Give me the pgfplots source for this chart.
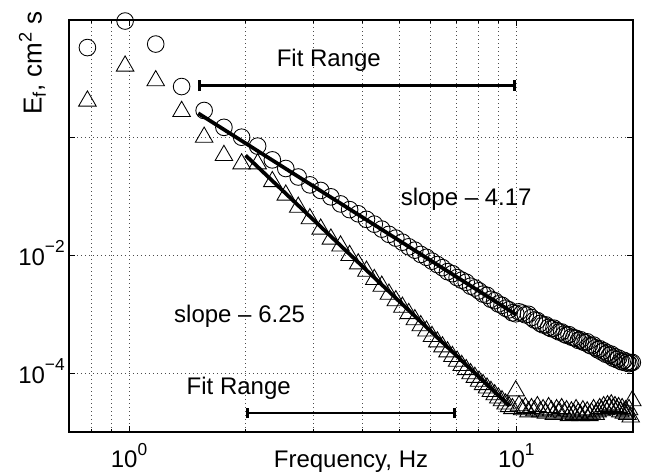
\documentclass[border=0pt]{standalone}
\usepackage{fontspec}
\setmainfont{Liberation Sans}
\usepackage{pgfplots}
\pgfplotsset{compat=1.18}
\usetikzlibrary{arrows.meta}
\newcommand\sups[1]{\raisebox{9.5pt}{\fontsize{13}{15}\selectfont #1}}
\pgfplotstableread{
f c
0.781 34
0.977 96
1.172 39
1.367 7.4
1.563 2.9
1.758 1.5
1.953 1.02
2.148 0.72
2.344 0.42
2.539 0.30
2.734 0.215
2.930 0.158
3.125 0.127
3.320 0.099
3.516 0.075
3.711 0.060
3.906 0.051
4.102 0.041
4.297 0.034
4.492 0.028
4.688 0.0228
4.883 0.0197
5.078 0.0168
5.273 0.0140
5.469 0.0123
5.664 0.0104
5.859 0.0093
6.055 0.0080
6.250 0.0070
6.445 0.0062
6.641 0.0053
6.836 0.0049
7.031 0.0042
7.227 0.0038
7.422 0.0035
7.617 0.0030
7.813 0.0028
8.008 0.0025
8.203 0.0022
8.398 0.0021
8.594 0.0018
8.789 0.0017
8.984 0.00150
9.180 0.00142
9.375 0.00127
9.570 0.00119
9.766 0.00106
9.961 0.00102
10.156 0.00110
10.352 0.00105
10.547 0.00098
10.742 0.00100
10.938 0.00088
11.133 0.00080
11.328 0.00078
11.523 0.00070
11.719 0.00066
11.914 0.00066
12.109 0.00060
12.305 0.00057
12.500 0.00058
12.695 0.00053
12.891 0.00050
13.086 0.00050
13.281 0.00046
13.477 0.00044
13.672 0.00045
13.867 0.00041
14.063 0.00040
14.258 0.00039
14.453 0.00036
14.648 0.00037
14.844 0.00034
15.039 0.00033
15.234 0.00034
15.430 0.00030
15.625 0.00029
15.820 0.00030
16.016 0.00027
16.211 0.00025
16.406 0.00026
16.602 0.00023
16.797 0.00024
16.992 0.00021
17.188 0.00022
17.383 0.00020
17.578 0.00021
17.773 0.00018
17.969 0.00019
18.164 0.00017
18.359 0.00018
18.555 0.00016
18.750 0.000155
18.945 0.000165
19.141 0.000150
19.336 0.000155
19.531 0.000145
19.727 0.000150
19.922 0.000152
}\circdata
\pgfplotstableread{
f t
0.781 4.2
0.977 16.5
1.172 9.3
1.367 2.8
1.563 1.02
1.758 0.50
1.953 0.36
2.148 0.36
2.344 0.18
2.539 0.106
2.734 0.066
2.930 0.042
3.125 0.028
3.320 0.019
3.516 0.0145
3.711 0.0100
3.906 0.0072
4.102 0.0054
4.297 0.0039
4.492 0.0030
4.688 0.0022
4.883 0.0017
5.078 0.00132
5.273 0.00103
5.469 0.00081
5.664 0.00064
5.859 0.00052
6.055 0.00042
6.250 0.00034
6.445 0.00028
6.641 0.00023
6.836 0.000192
7.031 0.000160
7.227 0.000135
7.422 0.000115
7.617 0.000098
7.813 0.000085
8.008 0.000073
8.203 0.000064
8.398 0.000056
8.594 0.000049
8.789 0.000043
8.984 0.000038
9.180 0.000034
9.375 0.000030
9.570 0.000027
9.766 0.000025
9.961 0.000050
10.156 0.000028
10.352 0.000024
10.547 0.000026
10.742 0.000022
10.938 0.000025
11.133 0.000023
11.328 0.000027
11.523 0.000022
11.719 0.000024
11.914 0.000021
12.109 0.000026
12.305 0.000023
12.500 0.000020
12.695 0.000024
12.891 0.000022
13.086 0.000025
13.281 0.000021
13.477 0.000023
13.672 0.000019
13.867 0.000022
14.063 0.000020
14.258 0.000024
14.453 0.000021
14.648 0.000019
14.844 0.000023
15.039 0.000020
15.234 0.000022
15.430 0.000019
15.625 0.000021
15.820 0.000024
16.016 0.000020
16.211 0.000022
16.406 0.000025
16.602 0.000023
16.797 0.000027
16.992 0.000024
17.188 0.000028
17.383 0.000026
17.578 0.000029
17.773 0.000025
17.969 0.000027
18.164 0.000024
18.359 0.000026
18.555 0.000022
18.750 0.000025
18.945 0.000021
19.141 0.000023
19.336 0.000020
19.531 0.000024
19.727 0.000018
19.922 0.000034
}\tridata
\begin{document}
\fontsize{18}{22}\selectfont
\begin{tikzpicture}
\begin{loglogaxis}[
  scale only axis, width=423pt, height=309pt,
  xmin=0.7, xmax=20, ymin=1e-5, ymax=100,
  xtick={1,10}, xticklabels={10\sups{0},10\sups{1}},
  minor xtick={0.8,0.9,2,3,4,5,6,7,8,9},
  ytick={1e-4,1e-2,1}, yticklabels={10\sups{−4},10\sups{−2},{}},
  yminorticks=false,
  xmajorgrids, xminorgrids, ymajorgrids,
  grid style={black!70, line width=0.6pt, dash pattern=on 0.7pt off 2.3pt},
  minor grid style={black!70, line width=0.6pt, dash pattern=on 0.7pt off 2.3pt},
  tick align=inside, major tick length=4.5pt, minor tick length=2.5pt,
  tick style={black, line width=0.6pt},
  axis line style={black, line width=0.8pt},
  every tick label/.append style={inner sep=0pt},
  xticklabel style={anchor=base, yshift=-27pt},
  yticklabel style={anchor=base east, xshift=-3pt, yshift=-7.5pt},
  clip=false,
]
\addplot[only marks, mark=o, mark size=6.25pt, mark options={line width=0.65pt, black}] table[x=f, y=c] {\circdata};
\addplot[only marks, mark=triangle, mark size=7.6pt, mark options={line width=0.65pt, black}] table[x=f, y=t] {\tridata};
\addplot[black, line width=2.8pt] coordinates {(1.509,2.6) (10,9.8e-4)};
\addplot[black, line width=2.8pt] coordinates {(2.0,0.50) (9.6,2.76e-5)};
\addplot[black, line width=2.2pt, {Bar[width=8pt]}-{Bar[width=8pt]}] coordinates {(1.509,7.65) (10,7.65)};
\addplot[black, line width=2.2pt, {Bar[width=8pt]}-{Bar[width=8pt]}] coordinates {(2.0,2.1e-5) (7.0,2.1e-5)};
\node[anchor=base] at (axis cs:3.28,16.0) {Fit Range};
\node[anchor=base] at (axis cs:1.92,4.4e-5) {Fit Range};
\node[anchor=base] at (axis cs:7.42,0.0718) {slope – 4.17};
\node[anchor=base] at (axis cs:1.93,7.36e-4) {slope – 6.25};
\node[rotate=90, anchor=base, font=\fontsize{19.5}{23}\selectfont] at ([xshift=-20.5pt]rel axis cs:0,0.8956) {E\textsubscript{f}, cm\textsuperscript{2} s};
\node[anchor=base, inner sep=0pt] at ([yshift=-27pt]rel axis cs:0.5,0) {Frequency, Hz};
\coordinate (bl) at (rel axis cs:0,0);
\coordinate (tr) at (rel axis cs:1,1);
\end{loglogaxis}
\pgfresetboundingbox
\path[use as bounding box] ([xshift=-51.75pt,yshift=-30.75pt]bl) rectangle ([xshift=15.75pt,yshift=15pt]tr);
\end{tikzpicture}
\end{document}
